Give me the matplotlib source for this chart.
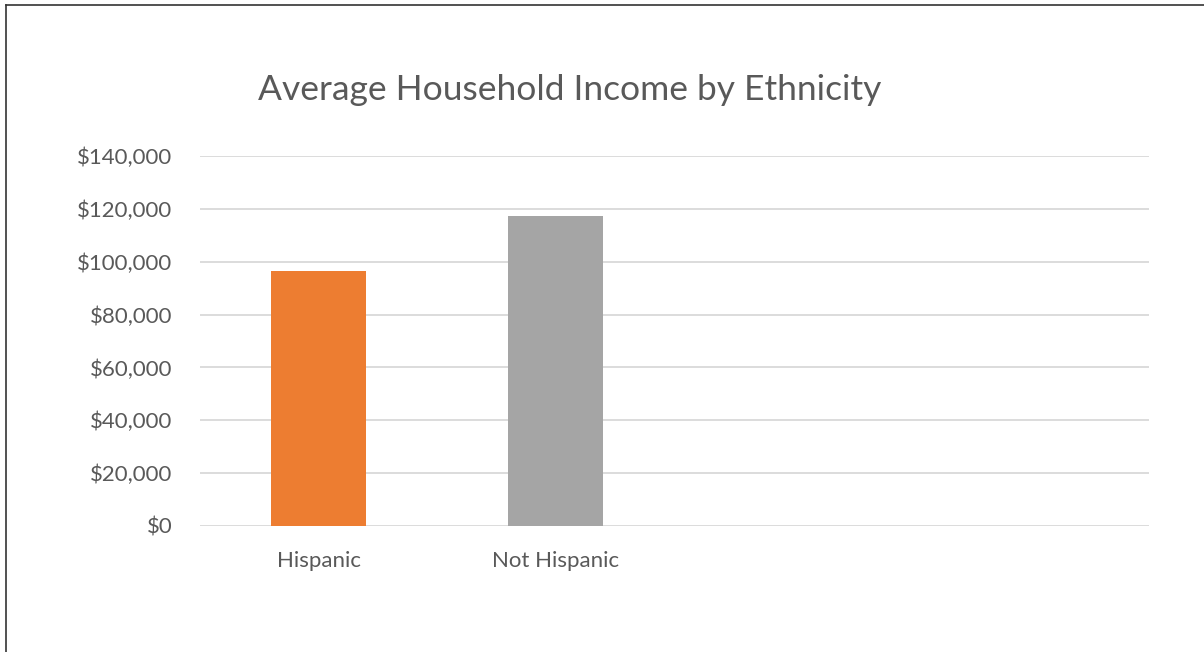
import matplotlib.pyplot as plt
from matplotlib.lines import Line2D
from matplotlib.ticker import FuncFormatter

# data
categories = ["Hispanic", "Not Hispanic"]
incomes = [96500, 117300]
bar_colors = ["#ED7D31", "#A5A5A5"]
y_ticks = [0, 20000, 40000, 60000, 80000, 100000, 120000, 140000]
n_slots = 4  # the chart leaves room for two more (empty) categories

plt.rcParams['font.family'] = ['Lato', 'DejaVu Sans']
text_color = "#595959"

fig = plt.figure(figsize=(12.04, 6.52), dpi=100)
ax = fig.add_axes([200 / 1204, 1 - 526 / 652, 949 / 1204, 370 / 652])

x = list(range(len(categories)))
ax.bar(x, incomes, width=0.4, color=bar_colors, zorder=3)

ax.set_xlim(-0.5, n_slots - 0.5)
ax.set_ylim(0, 140000)
ax.set_yticks(y_ticks)
ax.yaxis.set_major_formatter(FuncFormatter(lambda v, p: "${:,.0f}".format(v)))
ax.set_xticks(x)
ax.set_xticklabels(categories)

ax.grid(axis="y", color="#D9D9D9", linewidth=1.3, zorder=0)
for s in ax.spines.values():
    s.set_visible(False)
ax.tick_params(axis="both", length=0, labelsize=16, labelcolor=text_color)
ax.tick_params(axis="y", pad=20)
ax.tick_params(axis="x", pad=18)

fig.text(570 / 1204, 1 - 90 / 652, "Average Household Income by Ethnicity",
         ha="center", va="center", fontsize=25.5, color=text_color)

# frame lines along the top and left edge
fig.add_artist(Line2D([6 / 1204, 6 / 1204], [0, 1 - 5 / 652], color="#333333", linewidth=1.2))
fig.add_artist(Line2D([6 / 1204, 1], [1 - 5 / 652, 1 - 5 / 652], color="#333333", linewidth=1.2))

fig.savefig("out.png", dpi=100)
